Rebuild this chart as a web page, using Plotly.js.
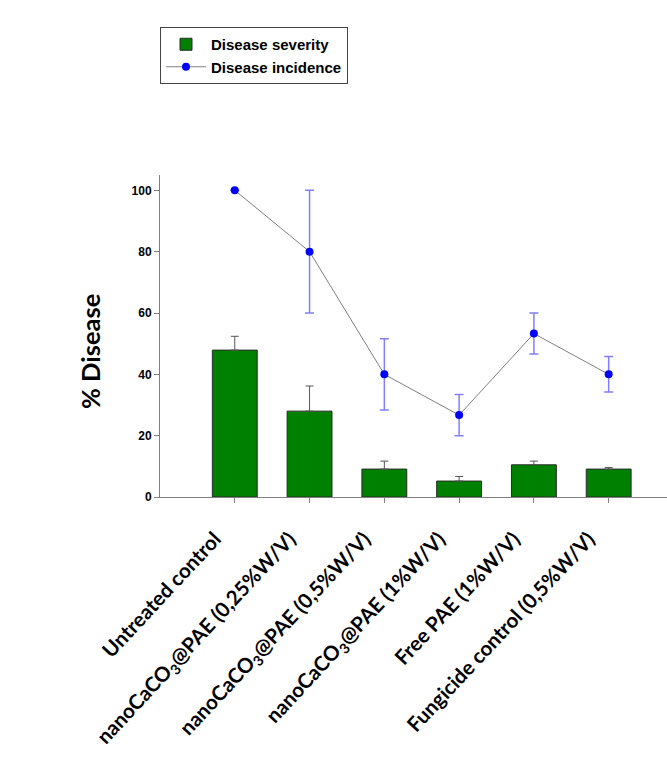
<!DOCTYPE html>
<html>
<head>
<meta charset="utf-8">
<script src="https://cdn.plot.ly/plotly-3.0.1.min.js"></script>
<style>html,body{margin:0;padding:0;background:#fff;}#chart{width:667px;height:765px;}</style>
</head>
<body>
<div id="chart"></div>
<script>
var categories = [
  "Untreated control",
  "nanoCaCO<sub>3</sub>@PAE (0,25%W/V)",
  "nanoCaCO<sub>3</sub>@PAE (0,5%W/V)",
  "nanoCaCO<sub>3</sub>@PAE (1%W/V)",
  "Free PAE (1%W/V)",
  "Fungicide control (0,5%W/V)"
];
var severity = [47.9, 28.0, 9.1, 5.2, 10.5, 9.1];
var severityErr = [4.5, 8.2, 2.6, 1.5, 1.2, 0.5];
var incidence = [100, 80, 40, 26.7, 53.3, 40];
var incidenceErr = [0, 20, 11.6, 6.7, 6.7, 5.8];
var yTicks = [0, 20, 40, 60, 80, 100];

var traces = [
  {
    type: 'bar', name: 'Disease severity', x: categories, y: severity, width: 0.6,
    marker: {color: '#008000', line: {color: '#2a2a2a', width: 1}},
    error_y: {type: 'data', array: severityErr, arrayminus: severityErr.map(function(){return 0;}), symmetric: false, color: '#555555', thickness: 1, width: 4}
  },
  {
    type: 'scatter', mode: 'lines+markers', name: 'Disease incidence', x: categories, y: incidence,
    line: {color: '#7f7f7f', width: 1},
    marker: {color: '#0000ff', size: 8},
    error_y: {type: 'data', array: incidenceErr, visible: true, color: '#8080ff', thickness: 1.5, width: 4.5}
  }
];

var layout = {
  width: 667, height: 765,
  margin: {l: 160, r: 0, t: 175, b: 268},
  paper_bgcolor: '#ffffff', plot_bgcolor: '#ffffff',
  showlegend: true,
  legend: {
    x: 0, y: 1.4596, xanchor: 'left', yanchor: 'top',
    bgcolor: '#ffffff', bordercolor: '#444444', borderwidth: 1,
    font: {family: 'Liberation Sans, Arial, sans-serif', size: 15, weight: 'bold', color: '#000'},
    itemwidth: 40, tracegroupgap: 0
  },
  xaxis: {
    type: 'category', range: [-1, 5.78],
    showline: true, linecolor: '#808080', linewidth: 1,
    ticks: 'outside', ticklen: 5, tickcolor: '#808080',
    tickangle: -47, ticklabelstandoff: 16, ticklabelshift: -20,
    tickfont: {family: 'Lato, Open Sans, sans-serif', size: 20.5, weight: 'bold', color: '#000'},
    showgrid: false, zeroline: false, fixedrange: true
  },
  yaxis: {
    range: [0, 105], tickvals: yTicks, ticktext: yTicks.map(String),
    showline: true, linecolor: '#808080', linewidth: 1,
    ticks: 'outside', ticklen: 5, tickcolor: '#808080',
    tickfont: {family: 'Liberation Sans, Arial, sans-serif', size: 12, weight: 'bold', color: '#000'},
    showgrid: false, zeroline: false, fixedrange: true
  },
  annotations: [{
    text: '% Disease', textangle: -90, xref: 'paper', yref: 'paper',
    x: (90 - 160) / 507, y: (497 - 352) / 322, xanchor: 'center', yanchor: 'middle', showarrow: false,
    font: {family: 'Lato, Open Sans, sans-serif', size: 25.5, weight: 'bold', color: '#000'}
  }]
};

Plotly.newPlot('chart', traces, layout, {displayModeBar: false, staticPlot: true});
</script>
</body>
</html>
